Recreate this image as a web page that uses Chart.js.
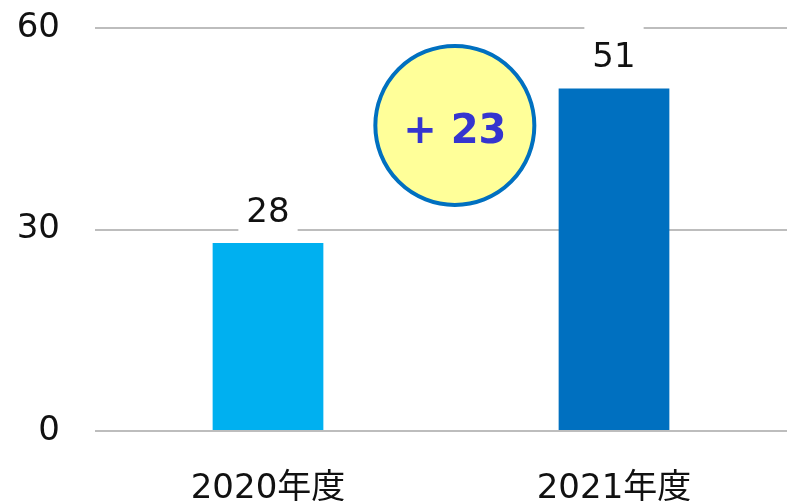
<!DOCTYPE html>
<html>
<head>
<meta charset="utf-8">
<script src="https://cdn.jsdelivr.net/npm/chart.js@4.4.0/dist/chart.umd.min.js"></script>
<style>
  html, body { margin: 0; padding: 0; background: #fff; }
  #wrap { width: 787px; height: 501px; overflow: hidden; position: relative; }
  #wrap canvas { display: block; }
</style>
</head>
<body>
<div id="wrap"><canvas id="chartNendo" width="787" height="520"></canvas></div>
<script>
const years = ["2020年度", "2021年度"];
const counts = [28, 51];
const barColors = ["#00B0F0", "#0070C0"];
const yTicks = [0, 30, 60];

const FONT = '"DejaVu Sans", "Noto Sans CJK JP", sans-serif';

// value labels with a white box behind them (cuts the gridline)
const valueLabels = {
  id: "valueLabels",
  afterDatasetsDraw(chart) {
    const ctx = chart.ctx;
    const meta = chart.getDatasetMeta(0);
    ctx.save();
    ctx.font = "34px " + FONT;
    ctx.textAlign = "center";
    ctx.textBaseline = "alphabetic";
    meta.data.forEach((bar, i) => {
      const txt = String(counts[i]);
      const w = ctx.measureText(txt).width;
      const base = bar.y - 21;
      ctx.fillStyle = "#fff";
      ctx.fillRect(bar.x - w / 2 - 8, base - 46, w + 16, 57);
      ctx.fillStyle = "#111";
      ctx.fillText(txt, bar.x, base);
    });
    ctx.restore();
  }
};

// "+ 23" circle between the two bars
const diffBubble = {
  id: "diffBubble",
  afterDraw(chart) {
    const ctx = chart.ctx;
    const x = chart.scales.x.getPixelForValue(0.54);
    const y = chart.scales.y.getPixelForValue(45.5);
    const diff = counts[1] - counts[0];
    ctx.save();
    ctx.beginPath();
    ctx.arc(x, y, 79.5, 0, Math.PI * 2);
    ctx.fillStyle = "#FFFF99";
    ctx.fill();
    ctx.lineWidth = 4;
    ctx.strokeStyle = "#0070C0";
    ctx.stroke();
    ctx.font = "bold 40px " + FONT;
    ctx.fillStyle = "#3535CF";
    ctx.textAlign = "center";
    ctx.textBaseline = "middle";
    ctx.fillText("+ " + diff, x, y + 7);
    ctx.restore();
  }
};

const data = {
  labels: years,
  datasets: [
    {
      data: counts,
      backgroundColor: barColors,
      borderWidth: 0,
      barPercentage: 0.32,
      categoryPercentage: 1.0,
    },
  ],
};

const config = {
  type: "bar",
  data,
  plugins: [valueLabels, diffBubble],
  options: {
    responsive: false,
    animation: false,
    layout: { padding: { top: 28, left: 17, right: 0, bottom: 0 } },
    plugins: {
      legend: { display: false },
      tooltip: { enabled: false },
    },
    scales: {
      x: {
        grid: { display: false },
        border: { display: false },
        afterFit: (scale) => { scale.height = 89; },
        ticks: {
          color: "#111",
          font: { family: FONT, size: 34 },
          padding: 30,
        },
      },
      y: {
        min: 0,
        max: 60,
        afterBuildTicks: (scale) => {
          scale.ticks = yTicks.map((v) => ({ value: v }));
        },
        afterFit: (scale) => {
          scale.width = 78;
          scale.paddingTop = 0;
          scale.paddingBottom = 0;
        },
        grid: { color: "#BDBDBD", lineWidth: 2, drawTicks: false },
        border: { display: false },
        ticks: {
          color: "#111",
          font: { family: FONT, size: 34 },
          padding: 35,
        },
      },
    },
  },
};

const chartNendo = new Chart(document.getElementById("chartNendo"), config);
</script>
</body>
</html>
